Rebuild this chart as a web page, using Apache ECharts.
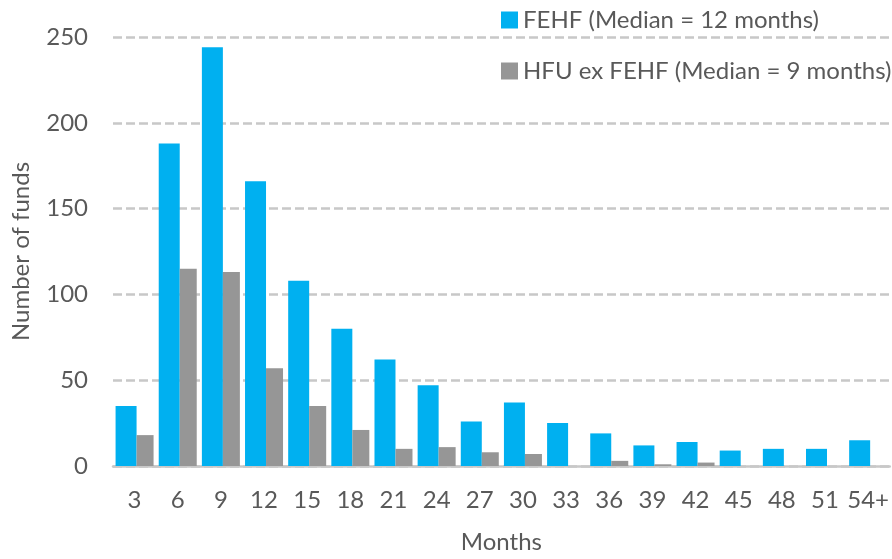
<!DOCTYPE html>
<html>
<head>
<meta charset="utf-8">
<script src="https://cdn.jsdelivr.net/npm/echarts@6/dist/echarts.min.js"></script>
<style>
  html, body { margin: 0; padding: 0; background: #ffffff; }
  #chart { width: 892px; height: 559px; }
</style>
</head>
<body>
<div id="chart"></div>
<script>
// Fund holding periods in months
const months = ['3', '6', '9', '12', '15', '18', '21', '24', '27', '30', '33', '36', '39', '42', '45', '48', '51', '54+'];
const fehfCounts = [35, 188, 244, 166, 108, 80, 62, 47, 26, 37, 25, 19, 12, 14, 9, 10, 10, 15];
const hfuExFehfCounts = [18, 115, 113, 57, 35, 21, 10, 11, 8, 7, 0, 3, 1, 2, 0, 0, 0, 0];
const seriesNames = ['FEHF (Median = 12 months)', 'HFU ex FEHF (Median = 9 months)'];
const yTicks = { min: 0, max: 250, interval: 50 };

const textColor = '#595959';
const fontFamily = 'Lato, "Open Sans", sans-serif';

const chart = echarts.init(document.getElementById('chart'), null, { renderer: 'canvas' });

chart.setOption({
  animation: false,
  backgroundColor: '#ffffff',
  textStyle: { fontFamily: fontFamily },
  grid: { left: 113, right: 1, top: 37, bottom: 88, containLabel: false },
  legend: {
    orient: 'vertical',
    left: 501,
    top: 8,
    padding: 0,
    itemWidth: 17,
    itemHeight: 17,
    itemGap: 27,
    icon: 'rect',
    textStyle: { color: textColor, fontSize: 24, fontFamily: fontFamily, lineHeight: 24 },
    data: seriesNames
  },
  xAxis: {
    type: 'category',
    data: months,
    name: 'Months',
    nameLocation: 'middle',
    nameGap: 64,
    nameTextStyle: { color: textColor, fontSize: 24, fontFamily: fontFamily },
    axisLine: { show: true, lineStyle: { color: '#c8c8c8', width: 2.5 } },
    axisTick: { show: false },
    axisLabel: { color: textColor, fontSize: 24, margin: 22, fontFamily: fontFamily, interval: 0 }
  },
  yAxis: {
    type: 'value',
    min: yTicks.min,
    max: yTicks.max,
    interval: yTicks.interval,
    name: 'Number of funds',
    nameLocation: 'middle',
    nameGap: 80,
    nameRotate: 90,
    nameTextStyle: { color: textColor, fontSize: 24, fontFamily: fontFamily },
    axisLine: { show: false },
    axisTick: { show: false },
    axisLabel: { color: textColor, fontSize: 24, margin: 25, fontFamily: fontFamily },
    splitLine: { show: true, lineStyle: { color: '#c8c8c8', width: 2.5, type: [9, 4] } }
  },
  series: [
    {
      name: seriesNames[0],
      type: 'bar',
      data: fehfCounts,
      barWidth: 21,
      barGap: '0%',
      itemStyle: { color: '#00B0F0' }
    },
    {
      name: seriesNames[1],
      type: 'bar',
      data: hfuExFehfCounts,
      barWidth: 17,
      barGap: '0%',
      itemStyle: { color: '#969696' }
    }
  ]
});
</script>
</body>
</html>
